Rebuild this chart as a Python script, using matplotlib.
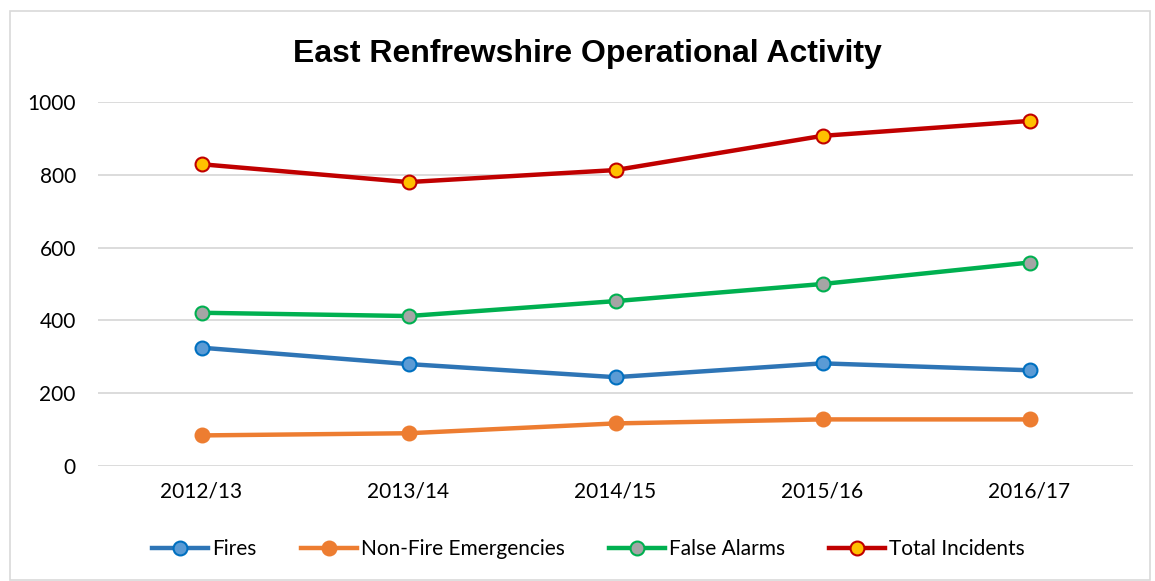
import matplotlib
matplotlib.use("Agg")
import matplotlib.pyplot as plt
from matplotlib.patches import Rectangle

years = ["2012/13", "2013/14", "2014/15", "2015/16", "2016/17"]
fires = [325, 280, 244, 282, 263]
non_fire = [84, 90, 117, 128, 128]
false_alarms = [421, 412, 453, 500, 559]
total = [829, 780, 813, 907, 948]

series = [
    ("Fires", fires, "#2E75B6", "#5B9BD5", "#0070C0"),
    ("Non-Fire Emergencies", non_fire, "#ED7D31", "#ED7D31", "#ED7D31"),
    ("False Alarms", false_alarms, "#00B050", "#A5A5A5", "#00B050"),
    ("Total Incidents", total, "#C00000", "#FFC000", "#C00000"),
]

plt.rcParams["font.family"] = ["Lato", "DejaVu Sans"]

fig = plt.figure(figsize=(11.55, 5.81), dpi=100)
ax = fig.add_axes([98 / 1155, 1 - 466 / 581, (1133 - 98) / 1155, (466 - 102) / 581])

x = list(range(len(years)))
for name, vals, lc, fc, ec in series:
    ax.plot(x, vals, color=lc, lw=3.2, marker="o", ms=10,
            markerfacecolor=fc, markeredgecolor=ec, markeredgewidth=1.5,
            label=name, zorder=3)

ax.set_xlim(-0.5, 4.5)
ax.set_ylim(0, 1000)
ax.set_yticks(range(0, 1001, 200))
ax.set_xticks(x)
ax.set_xticklabels(years)
ax.tick_params(axis="both", length=0, labelsize=15, colors="black")
ax.tick_params(axis="y", pad=16)
ax.tick_params(axis="x", pad=11)
ax.grid(axis="y", color="#D9D9D9", lw=1.3)
ax.set_axisbelow(True)
for s in ax.spines.values():
    s.set_visible(False)

fig.text(587.5 / 1155, 1 - 54 / 581, "East Renfrewshire Operational Activity",
         ha="center", va="center", fontsize=23, fontweight="bold",
         family="Liberation Sans")

fig.legend(loc="center", bbox_to_anchor=(588.5 / 1155, 1 - 549 / 581), ncol=4,
           frameon=False, fontsize=15, handlelength=2.7, handletextpad=0.2,
           columnspacing=2.1)

fig.patches.append(Rectangle((10 / 1155, 0.002), 1140 / 1155, 1 - 12 / 581,
                             transform=fig.transFigure, fill=False,
                             edgecolor="#D9D9D9", lw=1.2))

fig.savefig("out.png", dpi=100)
